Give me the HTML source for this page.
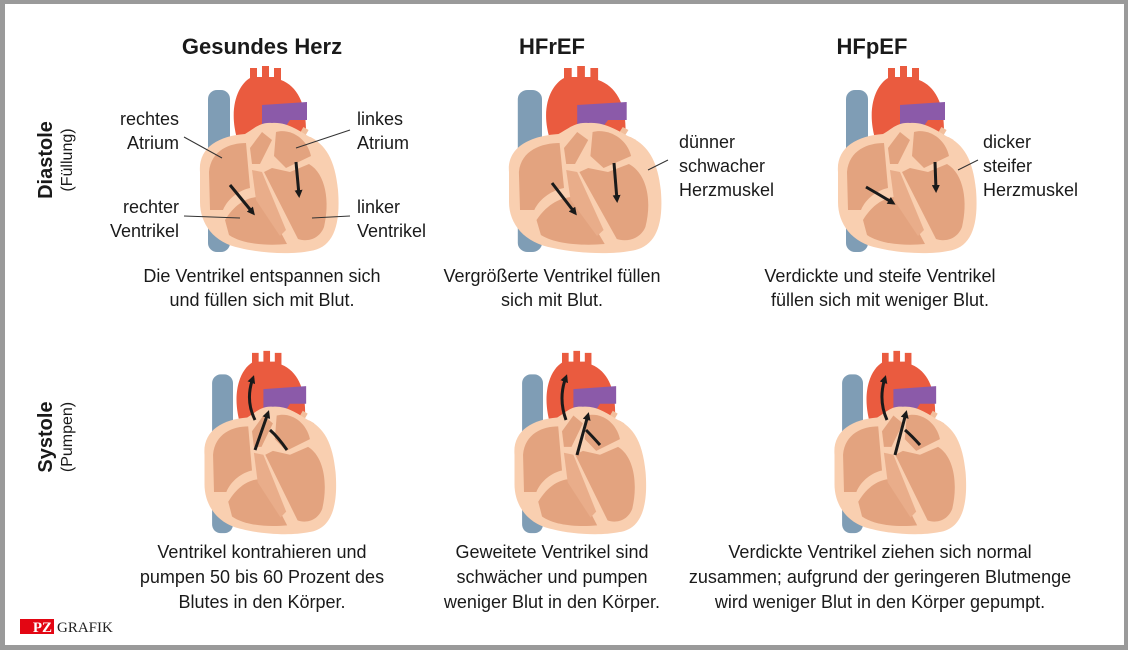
<!DOCTYPE html>
<html><head><meta charset="utf-8"><style>
body{margin:0;width:1128px;height:650px;overflow:hidden;background:#fff}
.f{position:absolute;left:0;top:0;border:4px solid #9a9a9a;border-left-width:5px;border-bottom-width:5px;box-sizing:border-box;width:1128px;height:650px}
svg{position:absolute;left:0;top:0}
text{font-family:"Liberation Sans Narrow","Liberation Sans",sans-serif;fill:#1a1a1a}
</style></head><body>
<div class="f"></div>
<svg width="1128" height="650" viewBox="0 0 1128 650">
<defs>
<g id="h">
<rect x="18" y="30" width="22" height="162" rx="9" fill="#7f9db5"/>
<path d="M50,88 C36,50 48,25 60,18 L60,8 L67,8 L67,17 L72,17 L72,6 L79,6 L79,17 L84,17 L84,8 L91,8 L91,20 C112,28 120,55 114,90 Z" fill="#ea5b3f"/>
<path d="M72,45 L117,42 L117,60 L100,60 L92,72 L72,72 Z" fill="#8b5aa9"/>
<rect x="111" y="68" width="6" height="8" fill="#f2bf9c" transform="rotate(30 114 72)"/>
<rect x="118" y="78" width="6" height="8" fill="#f2bf9c" transform="rotate(30 121 82)"/>
<path d="M10,112 C8,88 28,76 55,74 C65,68 70,62 82,63 C95,62 105,68 118,76 C136,84 145,100 148,130 C151,168 142,188 120,191 C100,195 70,193 50,188 C24,183 10,164 10,142 Z" fill="#f9cfb0"/>
<path d="M19,112 C21,90 40,83 56,83 L60,128 C50,130 38,138 33,150 L20,150 Z" fill="#e3a37f"/>
<path d="M35,160 C46,142 60,136 72,137 L97,184 C76,186 52,184 39,175 Z" fill="#e3a37f"/>
<path d="M60,88 L72,72 L82,80 L70,104 L62,104 Z" fill="#e3a37f"/>
<path d="M86,72 C100,68 117,78 121,96 L96,108 L84,96 Z" fill="#e3a37f"/>
<path d="M74,112 L82,108 L100,112 L119,104 C136,114 140,142 134,167 C129,180 116,182 108,179 Z" fill="#e3a37f"/>
<path d="M62,110 L72,112 L96,170 L90,176 L66,140 Z" fill="#e9ad8a"/>
</g>
<marker id="a" markerWidth="8" markerHeight="8" refX="5" refY="4" orient="auto" markerUnits="userSpaceOnUse"><path d="M0,0 L8,4 L0,8 Z" fill="#1a1a1a"/></marker>
</defs>

<use href="#h" transform="translate(190,60)"/>
<use href="#h" transform="translate(498,60) scale(1.1,1.0)"/>
<use href="#h" transform="translate(828,60)"/>
<use href="#h" transform="translate(195,345) scale(0.95,0.98)"/>
<use href="#h" transform="translate(505,345) scale(0.95,0.98)"/>
<use href="#h" transform="translate(825,345) scale(0.95,0.98)"/>

<g stroke="#1a1a1a" stroke-width="3" fill="none" marker-end="url(#a)">
<path d="M230,185 L253,213"/><path d="M296,162 L299,195"/>
<path d="M552,183 L575,213"/><path d="M614,163 L617,200"/>
<path d="M866,187 Q880,195 893,203"/><path d="M935,162 L936,190"/>
<path d="M255,420 Q245,400 253,378"/><path d="M255,450 L268,413"/>
<path d="M566,420 Q558,398 566,377"/><path d="M577,455 L588,415"/>
<path d="M887,420 Q878,400 885,378"/><path d="M895,455 L906,413"/>
</g>
<g stroke="#1a1a1a" stroke-width="3" fill="none">
<path d="M287,450 Q278,437 270,430"/><path d="M600,445 Q592,436 586,430"/><path d="M920,445 Q912,436 905,430"/>
</g>

<g stroke="#333" stroke-width="1" fill="none">
<line x1="184" y1="137" x2="222" y2="158"/>
<line x1="350" y1="130" x2="296" y2="148"/>
<line x1="184" y1="216" x2="240" y2="218"/>
<line x1="350" y1="216" x2="312" y2="218"/>
<line x1="668" y1="160" x2="648" y2="170"/>
<line x1="978" y1="160" x2="958" y2="170"/>
</g>

<g font-size="22" font-weight="bold" text-anchor="middle">
<text x="262" y="54" style="font-weight:bold">Gesundes Herz</text>
<text x="552" y="54" style="font-weight:bold">HFrEF</text>
<text x="872" y="54" style="font-weight:bold">HFpEF</text>
</g>
<text transform="translate(52,160) rotate(-90)" font-size="20" font-weight="bold" text-anchor="middle">Diastole</text>
<text transform="translate(72,160) rotate(-90)" font-size="16" text-anchor="middle">(Füllung)</text>
<text transform="translate(52,437) rotate(-90)" font-size="20" font-weight="bold" text-anchor="middle">Systole</text>
<text transform="translate(72,437) rotate(-90)" font-size="16" text-anchor="middle">(Pumpen)</text>

<g font-size="18">
<text x="179" y="125" text-anchor="end">rechtes</text>
<text x="179" y="149" text-anchor="end">Atrium</text>
<text x="179" y="213" text-anchor="end">rechter</text>
<text x="179" y="237" text-anchor="end">Ventrikel</text>
<text x="357" y="125">linkes</text>
<text x="357" y="149">Atrium</text>
<text x="357" y="213">linker</text>
<text x="357" y="237">Ventrikel</text>
<text x="679" y="148">dünner</text>
<text x="679" y="172">schwacher</text>
<text x="679" y="196">Herzmuskel</text>
<text x="983" y="148">dicker</text>
<text x="983" y="172">steifer</text>
<text x="983" y="196">Herzmuskel</text>
</g>
<g font-size="18" text-anchor="middle">
<text x="262" y="282">Die Ventrikel entspannen sich</text>
<text x="262" y="306">und füllen sich mit Blut.</text>
<text x="552" y="282">Vergrößerte Ventrikel füllen</text>
<text x="552" y="306">sich mit Blut.</text>
<text x="880" y="282">Verdickte und steife Ventrikel</text>
<text x="880" y="306">füllen sich mit weniger Blut.</text>
<text x="262" y="558">Ventrikel kontrahieren und</text>
<text x="262" y="583">pumpen 50 bis 60 Prozent des</text>
<text x="262" y="608">Blutes in den Körper.</text>
<text x="552" y="558">Geweitete Ventrikel sind</text>
<text x="552" y="583">schwächer und pumpen</text>
<text x="552" y="608">weniger Blut in den Körper.</text>
<text x="880" y="558">Verdickte Ventrikel ziehen sich normal</text>
<text x="880" y="583">zusammen; aufgrund der geringeren Blutmenge</text>
<text x="880" y="608">wird weniger Blut in den Körper gepumpt.</text>
</g>
<rect x="20" y="619" width="34" height="15" fill="#e30613"/>
<text x="52" y="632" font-size="15" font-weight="bold" text-anchor="end" style="fill:#fff;font-family:'Liberation Serif',serif">PZ</text>
<text x="57" y="632" font-size="15" style="font-family:'Liberation Serif',serif;fill:#222">GRAFIK</text>
</svg>
</body></html>
